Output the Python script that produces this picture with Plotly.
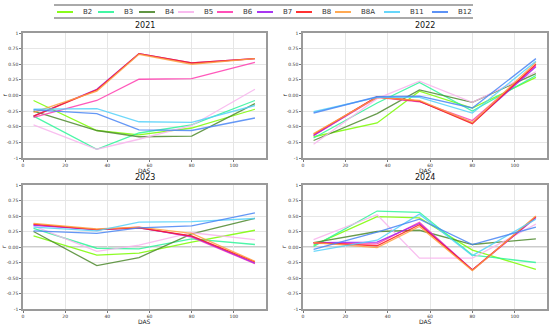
import plotly.graph_objects as go

bands = ["B2", "B3", "B4", "B5", "B6", "B7", "B8", "B8A", "B11", "B12"]
colors = ["#7CFC00", "#2EF59A", "#4E8A2E", "#F9B4EE", "#FF3DB0", "#A020F0",
          "#FF1A1A", "#FFA040", "#55D2FA", "#4A86F5"]
das = [5, 35, 55, 80, 110]
years = ["2021", "2022", "2023", "2024"]

r2021 = {
    "B2": [-0.08, -0.56, -0.63, -0.52, -0.22],
    "B3": [-0.33, -0.86, -0.60, -0.47, -0.08],
    "B4": [-0.25, -0.56, -0.66, -0.65, -0.13],
    "B5": [-0.47, -0.86, -0.70, -0.48, 0.10],
    "B6": [-0.35, -0.08, 0.26, 0.27, 0.53],
    "B7": [-0.33, 0.10, 0.67, 0.52, 0.59],
    "B8": [-0.33, 0.09, 0.67, 0.52, 0.59],
    "B8A": [-0.27, 0.07, 0.66, 0.50, 0.59],
    "B11": [-0.22, -0.21, -0.42, -0.43, -0.16],
    "B12": [-0.23, -0.29, -0.55, -0.56, -0.36],
}
r2022 = {
    "B2": [-0.66, -0.44, 0.07, -0.20, 0.29],
    "B3": [-0.68, -0.12, 0.21, -0.25, 0.32],
    "B4": [-0.72, -0.29, 0.09, -0.11, 0.35],
    "B5": [-0.78, -0.05, 0.23, -0.11, 0.38],
    "B6": [-0.64, -0.03, -0.10, -0.40, 0.48],
    "B7": [-0.64, -0.02, -0.09, -0.44, 0.46],
    "B8": [-0.62, -0.02, -0.09, -0.45, 0.50],
    "B8A": [-0.61, -0.03, -0.08, -0.43, 0.53],
    "B11": [-0.26, -0.03, -0.03, -0.28, 0.55],
    "B12": [-0.28, -0.02, -0.01, -0.20, 0.59],
}
r2023 = {
    "B2": [0.18, -0.13, -0.10, 0.08, 0.27],
    "B3": [0.30, -0.02, -0.03, 0.13, 0.04],
    "B4": [0.25, -0.30, -0.17, 0.21, 0.46],
    "B5": [0.34, -0.07, 0.03, 0.23, 0.12],
    "B6": [0.36, 0.28, 0.32, 0.16, -0.27],
    "B7": [0.35, 0.28, 0.31, 0.17, -0.26],
    "B8": [0.37, 0.28, 0.31, 0.18, -0.24],
    "B8A": [0.38, 0.29, 0.32, 0.22, -0.23],
    "B11": [0.32, 0.26, 0.40, 0.41, 0.46],
    "B12": [0.26, 0.22, 0.31, 0.34, 0.55],
}
r2024 = {
    "B2": [0.03, 0.49, 0.47, -0.05, -0.36],
    "B3": [0.01, 0.58, 0.56, -0.13, -0.25],
    "B4": [0.07, 0.25, 0.27, 0.04, 0.13],
    "B5": [0.12, 0.52, -0.18, -0.18, 0.37],
    "B6": [0.06, 0.05, 0.40, -0.37, 0.47],
    "B7": [0.07, 0.08, 0.38, -0.37, 0.48],
    "B8": [0.07, 0.02, 0.36, -0.37, 0.49],
    "B8A": [0.07, -0.01, 0.33, -0.38, 0.50],
    "B11": [-0.07, 0.11, 0.53, -0.14, 0.45],
    "B12": [-0.04, 0.24, 0.45, 0.04, 0.32],
}
yearly = [r2021, r2022, r2023, r2024]

ytick_vals = [-1, -0.75, -0.5, -0.25, 0, 0.25, 0.5, 0.75, 1]
ytick_text = ["-1", "-0.75", "-0.50", "-0.25", "0.00", "0.25", "0.50", "0.75", "1"]
xtick_vals = [0, 20, 40, 60, 80, 100]

W, H = 550, 326
# panel pixel boxes: (left, right, top, bottom)
boxes = [(23, 266, 33, 158), (303, 547, 33, 158), (23, 266, 185, 309), (303, 547, 185, 309)]

fig = go.Figure()
FONT = "DejaVu Sans"
layout = dict(width=W, height=H, margin=dict(l=0, r=0, t=0, b=0),
              paper_bgcolor="white", plot_bgcolor="white", showlegend=False,
              font=dict(family=FONT, size=5, color="#333"))
shapes, annotations = [], []

for i, (yr, data) in enumerate(zip(years, yearly)):
    l, r, t, b = boxes[i]
    xa = "xaxis" + ("" if i == 0 else str(i + 1))
    ya = "yaxis" + ("" if i == 0 else str(i + 1))
    xref = "x" + ("" if i == 0 else str(i + 1))
    yref = "y" + ("" if i == 0 else str(i + 1))
    layout[xa] = dict(domain=[l / W, r / W], anchor=yref, range=[0, 115.25],
                      tickvals=xtick_vals, showgrid=True, gridcolor="#e6e6e6", gridwidth=0.8,
                      zeroline=False, showline=True, linecolor="#9a9a9a", linewidth=1.5,
                      mirror=True, ticks="outside", ticklen=2, tickcolor="#777",
                      automargin=False,
                      tickfont=dict(size=4.5, family=FONT, color="#333"))
    layout[ya] = dict(domain=[1 - b / H, 1 - t / H], anchor=xref, range=[-1, 1],
                      tickvals=ytick_vals, ticktext=ytick_text, showgrid=True,
                      gridcolor="#e6e6e6", gridwidth=0.8, zeroline=False, showline=True,
                      linecolor="#9a9a9a", linewidth=1.5, mirror=True, ticks="outside",
                      ticklen=2, tickcolor="#777", automargin=False,
                      tickfont=dict(size=4.5, family=FONT, color="#333"))
    shapes.append(dict(type="line", xref=xref + " domain", yref=yref, x0=0, x1=1, y0=0, y1=0,
                       line=dict(color="#999999", width=1.2), layer="below"))
    annotations.append(dict(text=yr, xref="paper", yref="paper", x=(l + r) / 2 / W,
                            y=1 - (t - 1) / H, xanchor="center", yanchor="bottom",
                            showarrow=False, font=dict(size=8, family=FONT, color="#111")))
    annotations.append(dict(text="DAS", xref="paper", yref="paper", x=(l + r) / 2 / W,
                            y=1 - (b + 12.5) / H, xanchor="center", yanchor="middle",
                            showarrow=False, font=dict(size=6, family=FONT, color="#222")))
    annotations.append(dict(text="r", xref="paper", yref="paper", x=(l - 19) / W,
                            y=1 - (t + b) / 2 / H, xanchor="center", yanchor="middle",
                            textangle=-90, showarrow=False,
                            font=dict(size=6, family=FONT, color="#222")))
    for band, col in zip(bands, colors):
        fig.add_trace(go.Scatter(x=das, y=data[band], mode="lines", name=band,
                                 line=dict(color=col, width=1.3), opacity=0.85,
                                 xaxis=xref, yaxis=yref, showlegend=False))

# manual legend
leg_x = [57, 98, 139, 178, 217, 257, 296, 335, 384, 432]
leg_y = 12
for band, col, x0 in zip(bands, colors, leg_x):
    shapes.append(dict(type="line", xref="paper", yref="paper", x0=x0 / W, x1=(x0 + 16) / W,
                       y0=1 - leg_y / H, y1=1 - leg_y / H, line=dict(color=col, width=1.8)))
    annotations.append(dict(text=band, xref="paper", yref="paper", x=(x0 + 24) / W,
                            y=1 - leg_y / H, xanchor="left", yanchor="middle", showarrow=False,
                            font=dict(size=7, family=FONT, color="#333")))
for yy in (5, 18):
    shapes.append(dict(type="line", xref="paper", yref="paper", x0=54 / W, x1=473 / W,
                       y0=1 - yy / H, y1=1 - yy / H, line=dict(color="#555", width=1)))

layout["shapes"] = shapes
layout["annotations"] = annotations
fig.update_layout(**layout)
fig.write_html("out.html", config={"displayModeBar": False},
               post_script="document.body.style.margin='0';")
